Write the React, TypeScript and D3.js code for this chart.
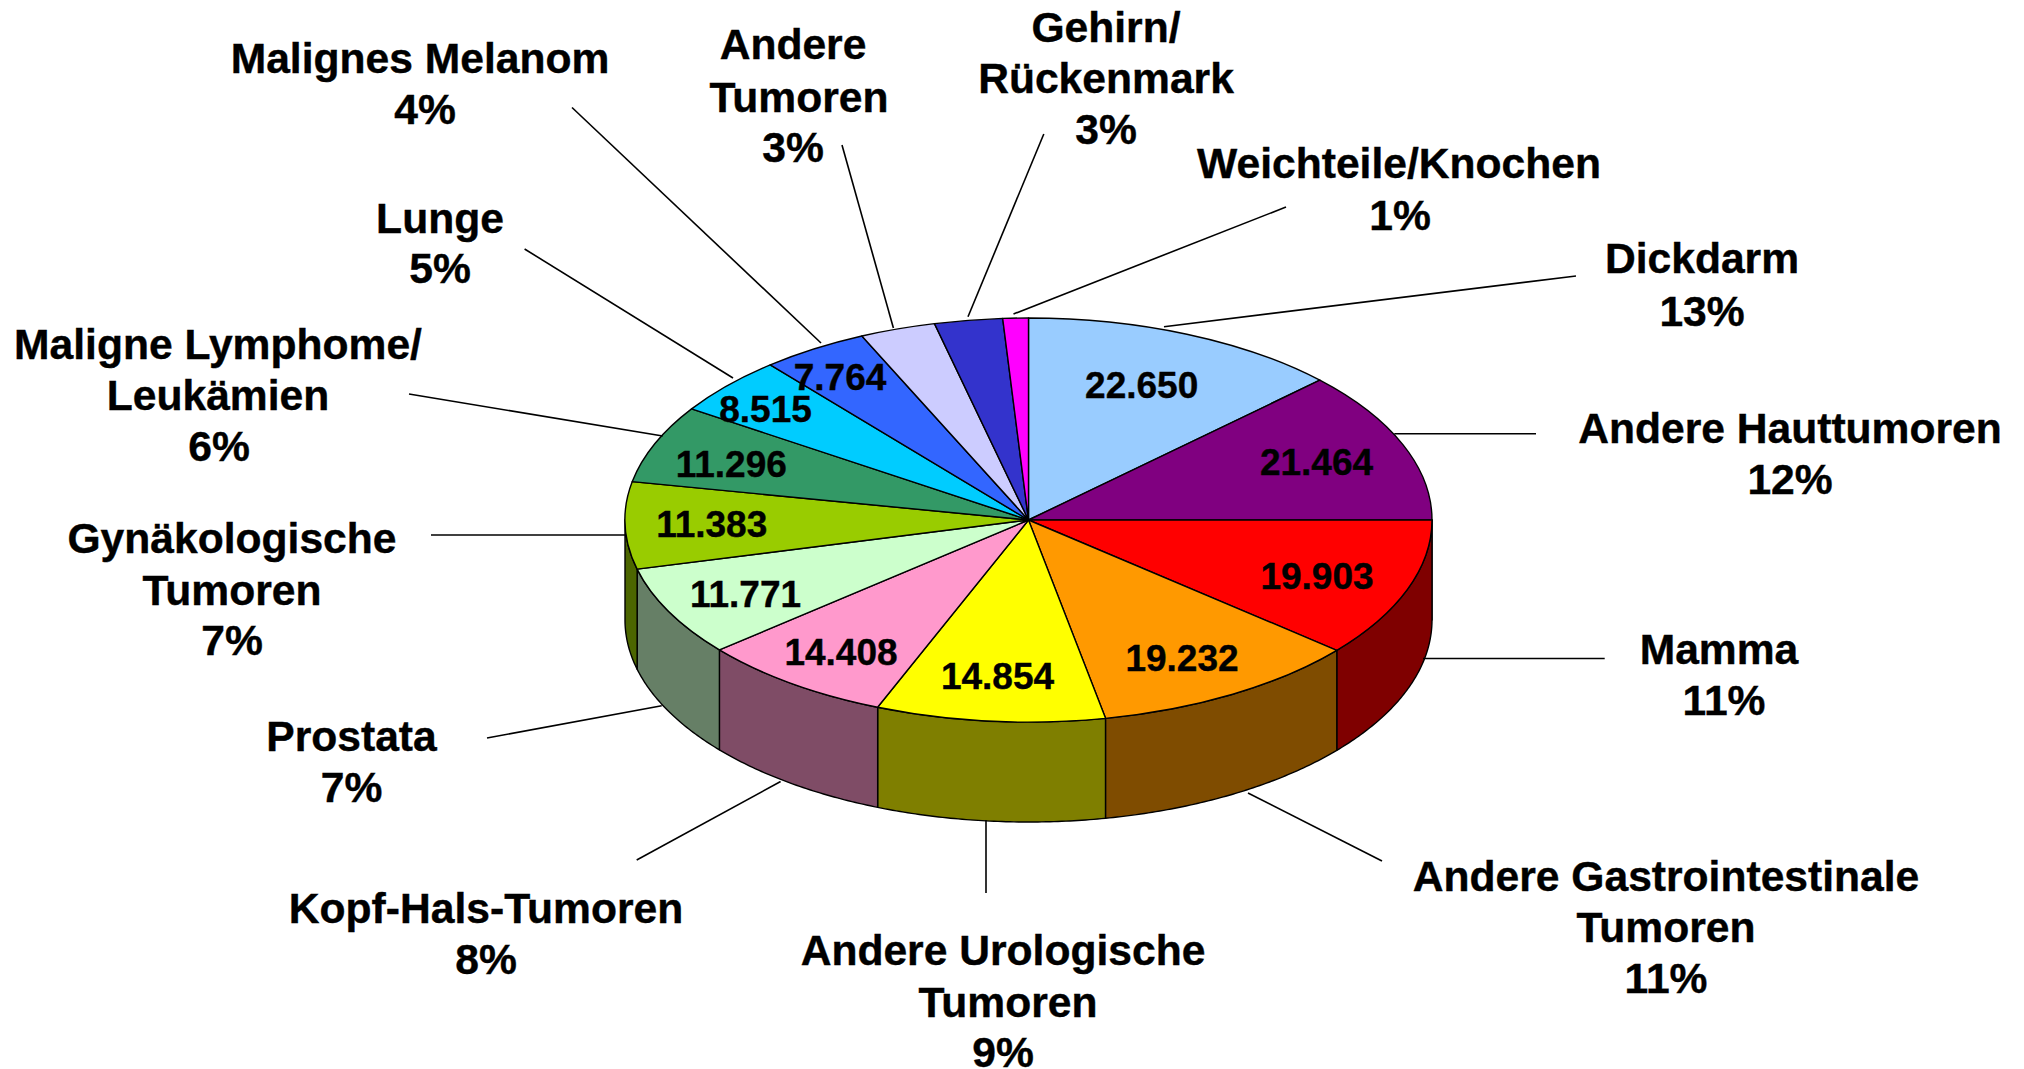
import React from "react";
import * as d3 from "d3";

// ---- data (clockwise from 12 o'clock) ----
const categories = [
  ["Dickdarm"],
  ["Andere Hauttumoren"],
  ["Mamma"],
  ["Andere Gastrointestinale", "Tumoren"],
  ["Andere Urologische", "Tumoren"],
  ["Kopf-Hals-Tumoren"],
  ["Prostata"],
  ["Gynäkologische", "Tumoren"],
  ["Maligne Lymphome/", "Leukämien"],
  ["Lunge"],
  ["Malignes Melanom"],
  ["Andere", "Tumoren"],
  ["Gehirn/", "Rückenmark"],
  ["Weichteile/Knochen"],
];
const values = [22650, 21464, 19903, 19232, 14854, 14408, 11771, 11383, 11296, 8515, 7764, 5520, 4960, 1850];
const shownValue = [true, true, true, true, true, true, true, true, true, true, true, false, false, false];
const percents = ["13%", "12%", "11%", "11%", "9%", "8%", "7%", "7%", "6%", "5%", "4%", "3%", "3%", "1%"];
const colors = [
  "#99ccff", "#800080", "#ff0000", "#ff9900", "#ffff00", "#ff99cc", "#ccffcc",
  "#99cc00", "#339966", "#00ccff", "#3366ff", "#ccccff", "#3333cc", "#ff00ff",
];

// ---- layout ----
const W = 2024, H = 1069;
const cx = 1028.5, cy = 520, rx = 403.5, ry = 202, depth = 100;
const FONT = "'Liberation Sans', Arial, sans-serif";
const labelSize = 42.6, valueSize = 37;

// centre x and baseline of every line of each category label
const labelLayout: [number[], number[]][] = [
  [[1702, 1702], [273, 326]],
  [[1790, 1790], [443, 494]],
  [[1719, 1724], [664, 715]],
  [[1666, 1666, 1666], [891, 942, 993]],
  [[1003, 1008, 1003], [965, 1017, 1067]],
  [[486, 486], [923, 974]],
  [[351.5, 351.5], [751, 802]],
  [[232, 232, 232], [553, 605, 655]],
  [[218, 218, 219], [359, 410, 461]],
  [[440, 440], [233, 283]],
  [[420, 425], [73, 124]],
  [[793, 799, 793], [59, 112, 162]],
  [[1106, 1106, 1106], [42, 93, 144]],
  [[1399, 1400], [178, 230]],
];
// centre x / baseline of value labels on the slices
const valueLayout: [number, number][] = [
  [1141.7, 397.7], [1316.5, 475], [1317, 589.3], [1182, 670.7], [997.5, 689.3], [841, 665.3],
  [745.5, 606.7], [711.7, 537.3], [731.3, 476.7], [765.5, 421.7], [840, 390],
];
// leader lines: label end, pie end
const leaders: [number, number, number, number][] = [
  [1576, 276, 1164, 326.7],
  [1536, 433.8, 1394.3, 433.8],
  [1604.7, 658.5, 1423, 658.5],
  [1382, 861, 1248, 793],
  [986, 893, 986, 820],
  [636.7, 860, 780.6, 781.5],
  [487, 738, 661.7, 705.8],
  [431, 535, 625, 535],
  [409, 394, 662.7, 436],
  [524.6, 249, 733, 378],
  [572, 107.5, 821, 343],
  [842, 145, 893.4, 328],
  [1043.8, 134, 968, 316.7],
  [1286, 207, 1013.5, 314],
];

// The reference is a 3-D pie in perspective, so its apparent angles differ a little from the true shares.
const deg = Math.PI / 180;
const perspective = d3
  .scaleLinear()
  .domain([0, 90.45, 170.7, 201.2, 230.7, 278.2, 360].map((d) => d * deg))
  .range([0, 90, 169, 202, 230, 281, 360].map((d) => d * deg));

const pieGen = d3.pie<number>().sort(null).startAngle(0).endAngle(2 * Math.PI);
const arcGen = d3.arc<any>().innerRadius(0).outerRadius(1);
const arcs = pieGen(values).map((d) => ({
  ...d,
  startAngle: perspective(d.startAngle),
  endAngle: perspective(d.endAngle),
}));
const xScale = d3.scaleLinear().domain([-1, 1]).range([cx - rx, cx + rx]);
const yScale = d3.scaleLinear().domain([-1, 1]).range([cy - ry, cy + ry]);
const fmt = d3.formatLocale({ decimal: ",", thousands: ".", grouping: [3], currency: ["", "€"] }).format(",");
const lineGen = d3.line<[number, number]>();

const rimPoint = (a: number, dy: number): [number, number] => [xScale(Math.sin(a)), yScale(-Math.cos(a)) + dy];

// Front wall of a slice: only the part of the rim between 3 and 9 o'clock is visible.
function sidePath(a0: number, a1: number): string | null {
  const s = Math.max(a0, Math.PI / 2);
  const e = Math.min(a1, (3 * Math.PI) / 2);
  if (e <= s) return null;
  const n = Math.max(4, Math.ceil((e - s) / 0.01));
  const angles = d3.range(n + 1).map((i) => s + ((e - s) * i) / n);
  const upper = angles.map((a) => rimPoint(a, 0));
  const lower = angles.slice().reverse().map((a) => rimPoint(a, depth));
  return lineGen([...upper, ...lower]) + "Z";
}

const darken = (c: string) => {
  const k = d3.rgb(c);
  return d3.rgb(Math.floor(k.r / 2), Math.floor(k.g / 2), Math.floor(k.b / 2)).formatHex();
};

export default function App() {
  return (
    <svg
      width={W}
      height={H}
      viewBox={`0 0 ${W} ${H}`}
      style={{ position: "absolute", left: 0, top: 0, display: "block", background: "#fff" }}
    >
      <g stroke="#000" strokeWidth={1.4} strokeLinejoin="round">
        {arcs.map((d, i) => {
          const p = sidePath(d.startAngle, d.endAngle);
          return p ? <path key={i} d={p} fill={darken(colors[i])} /> : null;
        })}
      </g>
      <g transform={`translate(${cx},${cy}) scale(${rx},${ry})`}>
        {arcs.map((d, i) => (
          <path
            key={i}
            d={arcGen(d) as string}
            fill={colors[i]}
            stroke="#000"
            strokeWidth={1.4}
            strokeLinejoin="round"
            vectorEffect="non-scaling-stroke"
          />
        ))}
      </g>
      <g stroke="#000" strokeWidth={1.6}>
        {leaders.map((l, i) => (
          <line key={i} x1={l[0]} y1={l[1]} x2={l[2]} y2={l[3]} />
        ))}
      </g>
      <g fontFamily={FONT} fontWeight={700} fontSize={valueSize} textAnchor="middle" fill="#000" stroke="#000" strokeWidth={0.4}>
        {values.map((v, i) =>
          shownValue[i] ? (
            <text key={i} x={valueLayout[i][0]} y={valueLayout[i][1]}>
              {fmt(v)}
            </text>
          ) : null
        )}
      </g>
      <g fontFamily={FONT} fontWeight={700} fontSize={labelSize} textAnchor="middle" fill="#000" stroke="#000" strokeWidth={0.4}>
        {categories.map((lines, i) => {
          const [xs, ys] = labelLayout[i];
          return (
            <text key={i}>
              {[...lines, percents[i]].map((t, j) => (
                <tspan key={j} x={xs[j]} y={ys[j]}>
                  {t}
                </tspan>
              ))}
            </text>
          );
        })}
      </g>
    </svg>
  );
}
